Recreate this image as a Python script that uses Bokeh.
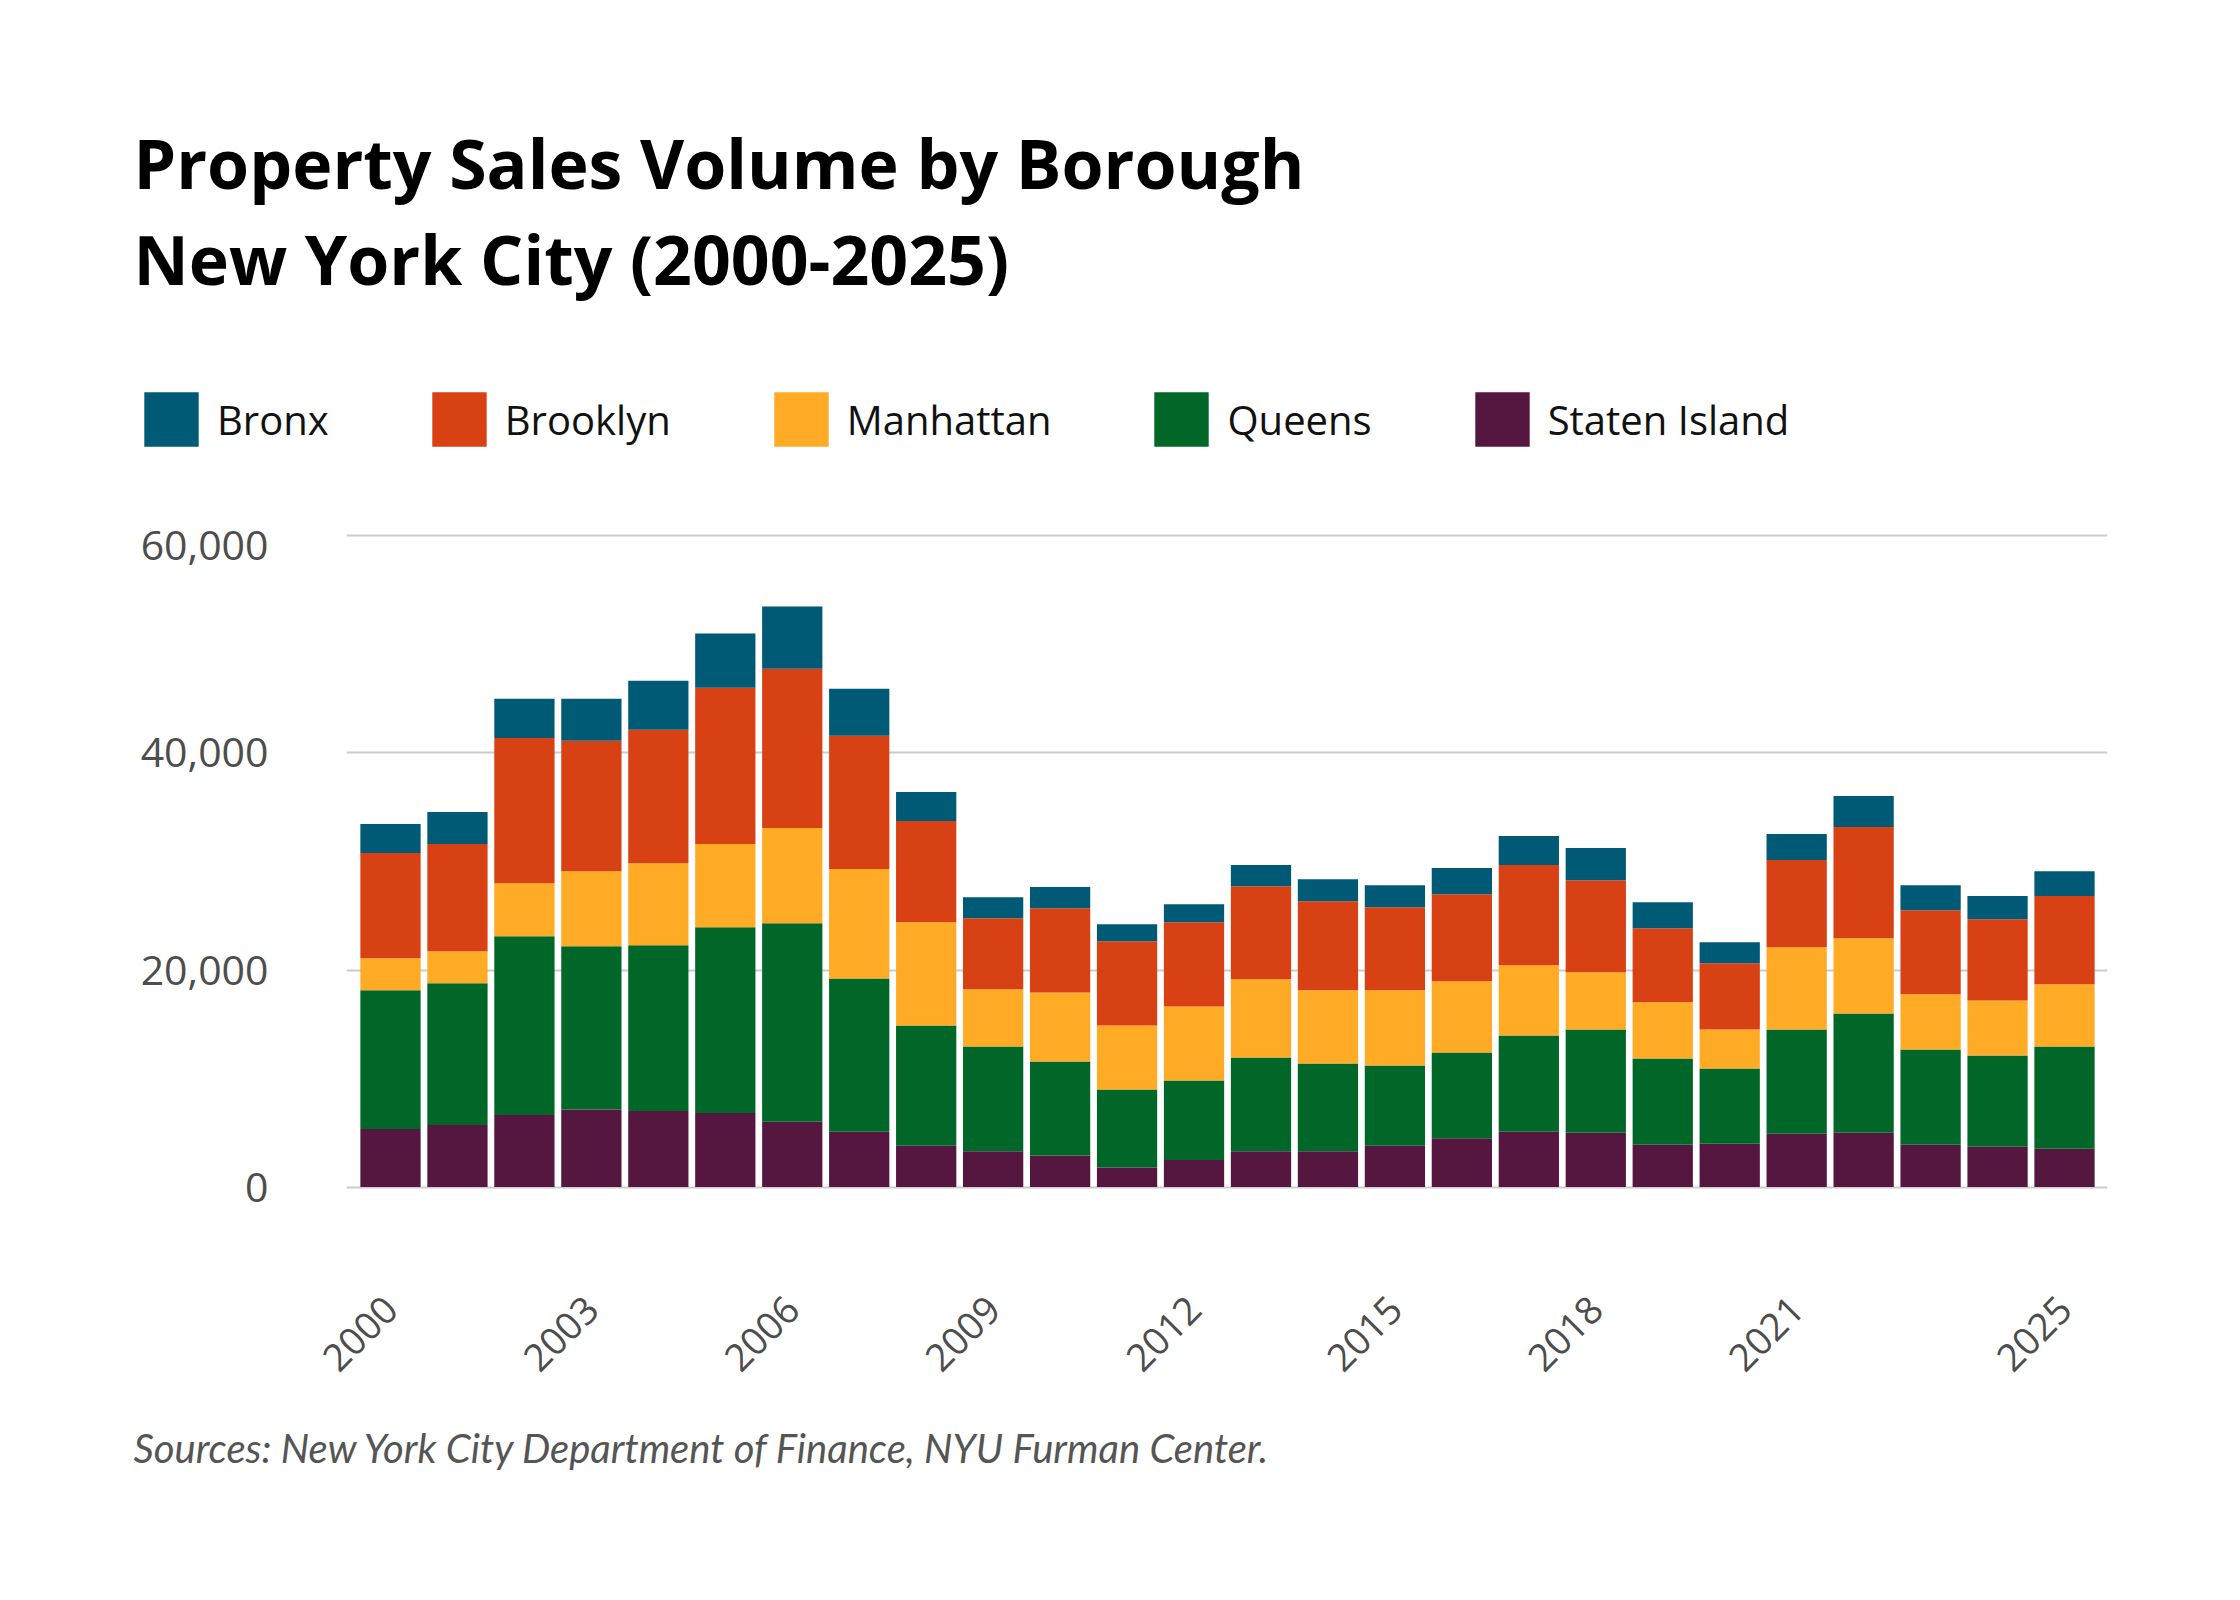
import math
from bokeh.plotting import figure
from bokeh.models import (Range1d, FixedTicker, NumeralTickFormatter, Legend,
                          LegendItem, ColumnDataSource)
from bokeh.core.properties import value
from bokeh.embed import file_html
from bokeh.resources import INLINE

years = list(range(2000, 2026))
staten_island = [5360, 5720, 6650, 7140, 7020, 6830, 6030, 5100, 3800, 3300, 2900, 1800, 2500,
                 3300, 3300, 3800, 4500, 5100, 5000, 3900, 4000, 4920, 5010, 3900, 3720, 3530]
queens = [12770, 13050, 16460, 15050, 15260, 17110, 18280, 14130, 11090, 9650, 8670, 7180, 7320,
          8640, 8080, 7400, 7900, 8870, 9520, 7950, 6920, 9600, 10990, 8780, 8400, 9420]
manhattan = [2950, 2960, 4890, 6920, 7570, 7670, 8770, 10070, 9510, 5270, 6370, 5910, 6830,
             7200, 6750, 6930, 6560, 6460, 5270, 5170, 3600, 7580, 6930, 5080, 5080, 5730]
brooklyn = [9700, 9880, 13390, 12010, 12280, 14400, 14690, 12280, 9330, 6550, 7760, 7760, 7750,
            8590, 8210, 7660, 8030, 9240, 8490, 6830, 6100, 8030, 10250, 7750, 7480, 8130]
bronx = [2670, 2950, 3610, 3880, 4530, 4990, 5720, 4340, 2680, 1940, 1940, 1570, 1670,
         1940, 2030, 2030, 2400, 2680, 2960, 2400, 1940, 2400, 2860, 2310, 2130, 2300]

stack_keys = ["staten_island", "queens", "manhattan", "brooklyn", "bronx"]
stack_names = ["Staten Island", "Queens", "Manhattan", "Brooklyn", "Bronx"]
stack_colors = ["#55163F", "#006729", "#FFAB26", "#D84113", "#005A75"]
legend_order = ["Bronx", "Brooklyn", "Manhattan", "Queens", "Staten Island"]

tick_years = [2000, 2003, 2006, 2009, 2012, 2015, 2018, 2021, 2025]
y_ticks = [0, 20000, 40000, 60000]

title_line1 = "Property Sales Volume by Borough"
title_line2 = "New York City (2000-2025)"
source_note = "Sources: New York City Department of Finance, NYU Furman Center."

W = 2232
HEADER_H = 530
FOOTER_H = 150

source = ColumnDataSource(dict(year=years, staten_island=staten_island, queens=queens,
                               manhattan=manhattan, brooklyn=brooklyn, bronx=bronx))


def blank(height):
    f = figure(width=W, height=height, x_range=Range1d(0, W), y_range=Range1d(height, 0),
               output_backend="svg", toolbar_location=None, title=None,
               x_axis_location=None, y_axis_location=None, min_border=0,
               outline_line_color=None, background_fill_color="white",
               border_fill_color="white")
    f.xgrid.visible = False
    f.ygrid.visible = False
    return f


# ---------- header: title and legend ----------
header = blank(HEADER_H)
for txt, yb in ((title_line1, 162), (title_line2, 258)):
    header.text(x=[133], y=[yb], text=[txt], text_font=value("Open Sans"),
                text_font_style="bold", text_font_size="68px", text_color="#000000",
                text_align="left", text_baseline="middle")

# hidden copy of the stacked bars: only used as the legend's glyph sources
legend_renderers = header.vbar_stack(stack_keys, x="year", width=0.9,
                                     fill_color=stack_colors, line_color=None,
                                     source=source)
for r in legend_renderers:
    r.visible = False
rmap = dict(zip(stack_names, legend_renderers))

legend = Legend(items=[LegendItem(label=n, renderers=[rmap[n]]) for n in legend_order],
                orientation="horizontal", location=(137, 77),
                glyph_width=68, glyph_height=68, label_standoff=12, spacing=96,
                padding=0, margin=0, border_line_color=None, background_fill_alpha=0,
                label_text_font="Open Sans", label_text_font_size="40px",
                label_text_color="#111111", label_height=68)
header.add_layout(legend, "center")

# ---------- main chart ----------
p = figure(frame_width=1761, frame_height=662,
           x_range=Range1d(1999.343, 2025.642), y_range=Range1d(-500, 60500),
           output_backend="svg", toolbar_location=None, title=None,
           min_border_left=346, min_border_right=W - 346 - 1761, min_border_top=0,
           min_border_bottom=210, outline_line_color=None,
           background_fill_color="white", border_fill_color="white")

p.vbar_stack(stack_keys, x="year", width=0.9, fill_color=stack_colors,
             line_color=None, source=source)

p.xaxis.ticker = FixedTicker(ticks=tick_years)
p.xaxis.major_label_orientation = math.pi / 4
p.xaxis.major_label_standoff = 104
p.xaxis.axis_line_color = None
p.xaxis.major_tick_line_color = None
p.xaxis.minor_tick_line_color = None
p.xaxis.major_label_text_font = "Open Sans"
p.xaxis.major_label_text_font_size = "38px"
p.xaxis.major_label_text_color = "#4d4d4d"

p.yaxis.ticker = FixedTicker(ticks=y_ticks)
p.yaxis.formatter = NumeralTickFormatter(format="0,0")
p.yaxis.major_label_standoff = 72
p.yaxis.axis_line_color = None
p.yaxis.major_tick_line_color = None
p.yaxis.minor_tick_line_color = None
p.yaxis.major_label_text_font = "Open Sans"
p.yaxis.major_label_text_font_size = "41px"
p.yaxis.major_label_text_color = "#4d4d4d"

p.xgrid.grid_line_color = None
p.ygrid.ticker = FixedTicker(ticks=y_ticks)
p.ygrid.grid_line_color = "#cccccc"
p.ygrid.grid_line_width = 2

# ---------- footer: source note ----------
footer = blank(FOOTER_H)
footer.text(x=[133], y=[45], text=[source_note], text_font=value("Lato"),
            text_font_style="italic", text_font_size="40px", text_color="#555555",
            text_align="left", text_baseline="middle")

# separate roots, stacked on the page (no frame alignment between them)
open("out.html", "w").write(file_html([header, p, footer], INLINE))
